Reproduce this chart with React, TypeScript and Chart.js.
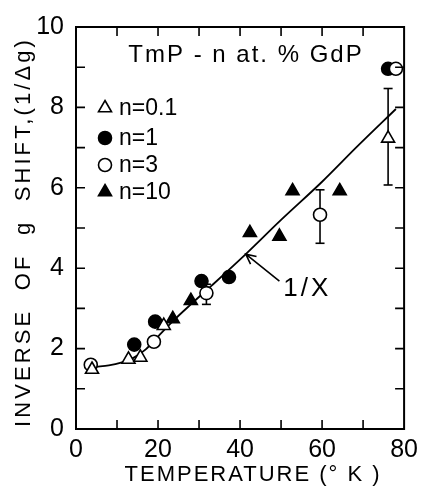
import React, { useEffect, useRef } from 'react';
import { Chart, registerables } from 'chart.js';
import { drawPoint } from 'chart.js/helpers';
Chart.register(...registerables);

// ---- data ----
const n01X = [3.9, 12.8, 15.7, 21.4, 76.1];
const n01Y = [1.48, 1.73, 1.78, 2.57, 7.23];
const n1X = [14.2, 19.3, 30.6, 37.3, 76.1];
const n1Y = [2.1, 2.67, 3.68, 3.78, 8.96];
const n3X = [3.6, 19.0, 31.8, 59.5, 78.0];
const n3Y = [1.6, 2.17, 3.38, 5.33, 8.96];
const n10X = [23.6, 28.0, 42.4, 49.6, 52.8, 64.3];
const n10Y = [2.74, 3.19, 4.88, 4.79, 5.92, 5.92];
const errX = [31.8, 59.5, 76.1];
const errLow = [3.1, 4.62, 6.07];
const errHigh = [3.6, 5.95, 8.47];
const curveX = [2.7, 5, 8, 11, 14, 17, 20, 24, 28, 33, 41.4, 50, 60, 68.4, 78];
const curveY = [1.53, 1.55, 1.58, 1.65, 1.77, 1.98, 2.3, 2.72, 3.1, 3.56, 4.35, 5.2, 6.15, 7.01, 7.96];
const xTickLabels = [0, 20, 40, 60, 80];
const yTickLabels = [0, 2, 4, 6, 8, 10];
const legendLabels = ['n=0.1', 'n=1', 'n=3', 'n=10'];
const chartTitle = 'TmP - n at. % GdP';
const xTitle = 'TEMPERATURE (° K )';
const yTitle = 'INVERSE  OF  g  SHIFT,(1/Δg)';
const curveLabel = '1/X';
const arrowTip = [41.4, 4.35];
const arrowTail = [49.6, 3.68];
const curveLabelPos = [56.4, 3.48];

const FONT = '"Liberation Sans", Arial, sans-serif';

export default function App() {
  const ref = useRef<HTMLCanvasElement>(null);
  useEffect(() => {
    const pts = (xs: number[], ys: number[]) => xs.map((x, i) => ({ x, y: ys[i] }));
    const styles: any = {
      'n=0.1': { pointStyle: 'triangle', pointRadius: 7.5, backgroundColor: '#fff' },
      'n=1': { pointStyle: 'circle', pointRadius: 6.5, backgroundColor: '#000' },
      'n=3': { pointStyle: 'circle', pointRadius: 6.5, backgroundColor: '#fff' },
      'n=10': { pointStyle: 'triangle', pointRadius: 7.5, backgroundColor: '#000' },
    };
    const mk = (label: string, xs: number[], ys: number[]) => ({
      label,
      data: pts(xs, ys),
      showLine: false,
      borderColor: '#000',
      pointBorderColor: '#000',
      pointBorderWidth: 1.6,
      pointBackgroundColor: styles[label].backgroundColor,
      backgroundColor: styles[label].backgroundColor,
      pointStyle: styles[label].pointStyle,
      pointRadius: styles[label].pointRadius,
    });
    const datasets: any[] = [
      mk('n=0.1', n01X, n01Y),
      mk('n=3', n3X, n3Y),
      mk('n=1', n1X, n1Y),
      mk('n=10', n10X, n10Y),
      ...errX.map((x, i) => ({
        label: 'err' + i,
        data: [{ x, y: errLow[i] }, { x, y: errHigh[i] }],
        showLine: true,
        borderColor: '#000',
        borderWidth: 1.6,
        pointStyle: 'line',
        pointRadius: 4.5,
        pointBorderWidth: 1.6,
        pointBorderColor: '#000',
      })),
      {
        label: curveLabel,
        data: pts(curveX, curveY),
        showLine: true,
        borderColor: '#000',
        borderWidth: 1.8,
        pointRadius: 0,
        cubicInterpolationMode: 'monotone',
      },
    ];

    const decor = {
      id: 'decor',
      afterDraw(chart: any) {
        const { ctx, chartArea: a, scales } = chart;
        const xs = scales.x, ys = scales.y;
        ctx.save();
        ctx.strokeStyle = '#000';
        ctx.fillStyle = '#000';
        // frame
        ctx.lineWidth = 2;
        ctx.strokeRect(a.left, a.top, a.right - a.left, a.bottom - a.top);
        // inward ticks
        const tl = 9;
        ctx.lineWidth = 1.6;
        ctx.beginPath();
        xs.ticks.forEach((t: any) => {
          const p = xs.getPixelForValue(t.value);
          if (p <= a.left + 1 || p >= a.right - 1) return;
          ctx.moveTo(p, a.bottom); ctx.lineTo(p, a.bottom - tl);
          ctx.moveTo(p, a.top); ctx.lineTo(p, a.top + tl);
        });
        ys.ticks.forEach((t: any) => {
          const p = ys.getPixelForValue(t.value);
          if (p <= a.top + 1 || p >= a.bottom - 1) return;
          ctx.moveTo(a.left, p); ctx.lineTo(a.left + tl, p);
          ctx.moveTo(a.right, p); ctx.lineTo(a.right - tl, p);
        });
        ctx.stroke();

        // chart title
        ctx.font = `24px ${FONT}`;
        (ctx as any).letterSpacing = '2px';
        ctx.textAlign = 'center';
        ctx.textBaseline = 'middle';
        ctx.fillText(chartTitle, a.left + 170, a.top + 28);

        // legend
        const rows = [81, 111, 138, 165];
        (ctx as any).letterSpacing = '0px';
        ctx.font = `23px ${FONT}`;
        ctx.textAlign = 'left';
        legendLabels.forEach((lab, i) => {
          const s = styles[lab];
          const y = a.top + rows[i];
          ctx.fillStyle = s.backgroundColor;
          ctx.strokeStyle = '#000';
          ctx.lineWidth = 1.6;
          drawPoint(ctx, { pointStyle: s.pointStyle, radius: s.pointRadius, rotation: 0, borderWidth: 1.6 } as any, a.left + 29, y);
          ctx.fillStyle = '#000';
          ctx.fillText(lab, a.left + 43, y + 1);
        });

        // arrow + curve label
        const tx = xs.getPixelForValue(arrowTip[0]), ty = ys.getPixelForValue(arrowTip[1]);
        const sx = xs.getPixelForValue(arrowTail[0]), sy = ys.getPixelForValue(arrowTail[1]);
        ctx.lineWidth = 1.6;
        ctx.beginPath();
        ctx.moveTo(sx, sy); ctx.lineTo(tx, ty);
        const ang = Math.atan2(sy - ty, sx - tx);
        const hl = 11, hw = 0.45;
        ctx.moveTo(tx + hl * Math.cos(ang + hw), ty + hl * Math.sin(ang + hw));
        ctx.lineTo(tx, ty);
        ctx.lineTo(tx + hl * Math.cos(ang - hw), ty + hl * Math.sin(ang - hw));
        ctx.stroke();
        ctx.font = `26px ${FONT}`;
        (ctx as any).letterSpacing = '3px';
        ctx.textAlign = 'center';
        ctx.fillText(curveLabel, xs.getPixelForValue(curveLabelPos[0]), ys.getPixelForValue(curveLabelPos[1]));

        // axis titles
        ctx.font = `22px ${FONT}`;
        (ctx as any).letterSpacing = '2px';
        ctx.fillText(xTitle, (a.left + a.right) / 2 + 13, 475);
        ctx.save();
        ctx.translate(24, (a.top + a.bottom) / 2 + 4);
        ctx.rotate(-Math.PI / 2);
        (ctx as any).letterSpacing = '3.1px';
        ctx.fillText(yTitle, 0, 0);
        ctx.restore();
        ctx.restore();
      },
    };

    const chart = new Chart(ref.current!, {
      type: 'scatter',
      data: { datasets },
      options: {
        animation: false,
        responsive: false,
        devicePixelRatio: 1,
        layout: { padding: { top: 22, right: 16, left: 0, bottom: 0 } },
        plugins: { legend: { display: false }, tooltip: { enabled: false } },
        scales: {
          x: {
            type: 'linear', min: 0, max: 80,
            afterFit: (s: any) => { s.height = 58; },
            grid: { display: false, drawTicks: false },
            border: { display: false },
            ticks: {
              stepSize: 10, padding: 6, color: '#000', maxRotation: 0, autoSkip: false,
              font: { family: FONT, size: 25 },
              callback: (v: any) => (xTickLabels.includes(Number(v)) ? String(v) : ''),
            },
          },
          y: {
            type: 'linear', min: 0, max: 10,
            afterFit: (s: any) => { s.width = 76; },
            grid: { display: false, drawTicks: false },
            border: { display: false },
            ticks: {
              stepSize: 1, padding: 12, color: '#000', autoSkip: false,
              font: { family: FONT, size: 25 },
              callback: (v: any) => (yTickLabels.includes(Number(v)) ? String(v) : ''),
            },
          },
        },
      },
      plugins: [decor],
    } as any);
    return () => chart.destroy();
  }, []);
  return (
    <div style={{ position: 'absolute', left: 0, top: 0, width: 424, height: 487, background: '#fff' }}>
      <canvas ref={ref} width={424} height={487} />
    </div>
  );
}
